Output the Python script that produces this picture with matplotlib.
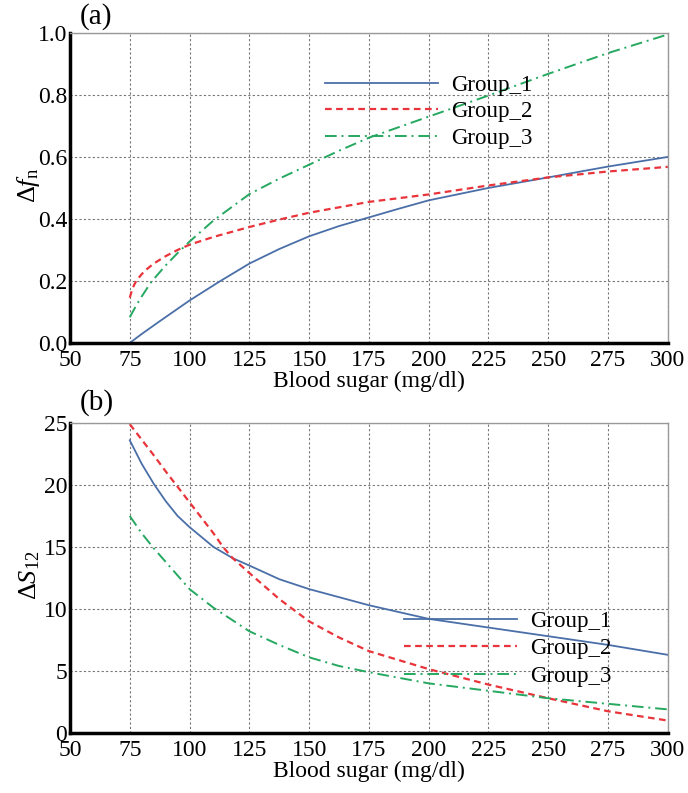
import numpy as np
import matplotlib
matplotlib.use('Agg')
import matplotlib.pyplot as plt

plt.rcParams['font.family'] = ['Liberation Serif', 'DejaVu Serif']
plt.rcParams['mathtext.fontset'] = 'custom'
plt.rcParams['mathtext.rm'] = 'Liberation Serif'
plt.rcParams['mathtext.it'] = 'Liberation Serif:italic'

# panel (a): delta f_n
x_a1 = [75, 80, 87.5, 100, 112.5, 125, 137.5, 150, 162.5, 175, 187.5, 200, 225, 250, 275, 300]
g1_a = [0.0, 0.029, 0.07, 0.137, 0.198, 0.256, 0.303, 0.344, 0.377, 0.405, 0.433, 0.46, 0.5, 0.534, 0.569, 0.6]
x_a2 = [75, 76, 77, 78, 80, 82, 85, 90, 95, 100, 110, 125, 137.5, 150, 175, 200, 225, 250, 275, 300]
g2_a = [0.146, 0.172, 0.19, 0.203, 0.222, 0.237, 0.256, 0.28, 0.3, 0.317, 0.342, 0.374, 0.398, 0.42, 0.455, 0.479, 0.508, 0.534, 0.553, 0.568]
x_a3 = [75, 78, 80, 84, 90, 95, 100, 110, 125, 137.5, 150, 162.5, 175, 200, 225, 250, 275, 300]
g3_a = [0.083, 0.125, 0.15, 0.197, 0.25, 0.29, 0.327, 0.395, 0.48, 0.53, 0.575, 0.62, 0.662, 0.73, 0.798, 0.868, 0.935, 0.995]

# panel (b): delta S_12
x_b1 = [75, 80, 85, 90, 95, 100, 110, 118, 125, 137.5, 150, 175, 200, 225, 250, 275, 300]
g1_b = [23.6, 21.7, 20.1, 18.7, 17.5, 16.6, 15.0, 14.1, 13.5, 12.4, 11.6, 10.3, 9.2, 8.5, 7.8, 7.1, 6.3]
x_b2 = [75, 85, 90, 100, 110, 114, 118, 125, 137.5, 150, 162.5, 175, 200, 225, 250, 275, 300]
g2_b = [24.9, 22.4, 21.1, 18.6, 16.1, 15.0, 14.1, 12.9, 10.8, 9.0, 7.7, 6.6, 5.15, 3.9, 2.8, 1.75, 1.0]
x_b3 = [75, 80, 85, 90, 100, 110, 125, 137.5, 150, 162.5, 175, 200, 225, 250, 275, 300]
g3_b = [17.5, 16.1, 14.9, 13.8, 11.6, 10.1, 8.2, 7.1, 6.1, 5.4, 4.9, 4.0, 3.4, 2.8, 2.35, 1.9]

x_ticks = [50, 75, 100, 125, 150, 175, 200, 225, 250, 275, 300]
labels = ['Group_1', 'Group_2', 'Group_3']

c_blue = '#4a6fa8'
c_red = '#e8343a'
c_green = '#25a860'


def style_axes(ax):
    ax.set_xlim(50, 300)
    ax.set_xticks(x_ticks)
    ax.grid(True, color='#777777', linestyle=(0, (2, 2)), linewidth=0.8)
    ax.tick_params(length=0, labelsize=17, pad=2)
    ax.tick_params(axis='x', pad=5)
    for s in ['left', 'bottom']:
        ax.spines[s].set_linewidth(2.5)
        ax.spines[s].set_color('black')
    for s in ['top', 'right']:
        ax.spines[s].set_linewidth(1.0)
        ax.spines[s].set_color('#999999')
    ax.set_xlabel('Blood sugar (mg/dl)', fontsize=17, labelpad=0)


fig = plt.figure(figsize=(6.88, 7.93), dpi=100)
ax1 = fig.add_axes([0.1017, 0.5675, 0.869, 0.391])
ax2 = fig.add_axes([0.1017, 0.0757, 0.869, 0.391])

l1, = ax1.plot(x_a1, g1_a, color=c_blue, linewidth=1.3, linestyle='-')
l2, = ax1.plot(x_a2, g2_a, color=c_red, linewidth=1.6, linestyle=(0, (3, 2)))
l3, = ax1.plot(x_a3, g3_a, color=c_green, linewidth=1.4, linestyle=(0, (6, 2.5, 1, 2.5)))
style_axes(ax1)
ax1.set_ylim(0, 1.0)
ax1.set_yticks([0.0, 0.2, 0.4, 0.6, 0.8, 1.0])
ax1.set_yticklabels(['0.0', '0.2', '0.4', '0.6', '0.8', '1.0'])
ax1.set_ylabel(r'$\mathit{\Delta f}_\mathrm{n}$', fontsize=19)
ax1.yaxis.set_label_coords(-0.047, 0.51)
ax1.legend([l1, l2, l3], labels, loc='upper left', bbox_to_anchor=(0.408, 0.90),
           frameon=False, fontsize=16.5, handlelength=4.9, handletextpad=0.6,
           labelspacing=0.22, borderpad=0)
fig.text(0.116, 0.979, '(a)', fontsize=21, ha='left', va='center')

m1, = ax2.plot(x_b1, g1_b, color=c_blue, linewidth=1.3, linestyle='-')
m2, = ax2.plot(x_b2, g2_b, color=c_red, linewidth=1.6, linestyle=(0, (3, 2)))
m3, = ax2.plot(x_b3, g3_b, color=c_green, linewidth=1.4, linestyle=(0, (6, 2.5, 1, 2.5)))
style_axes(ax2)
ax2.set_ylim(0, 25)
ax2.set_yticks([0, 5, 10, 15, 20, 25])
ax2.set_ylabel(r'$\mathit{\Delta S}_{12}$', fontsize=19)
ax2.yaxis.set_label_coords(-0.047, 0.51)
ax2.legend([m1, m2, m3], labels, loc='upper left', bbox_to_anchor=(0.54, 0.432),
           frameon=False, fontsize=16.5, handlelength=4.9, handletextpad=0.6,
           labelspacing=0.3, borderpad=0)
fig.text(0.116, 0.492, '(b)', fontsize=21, ha='left', va='center')

fig.savefig('out.png', dpi=100)
